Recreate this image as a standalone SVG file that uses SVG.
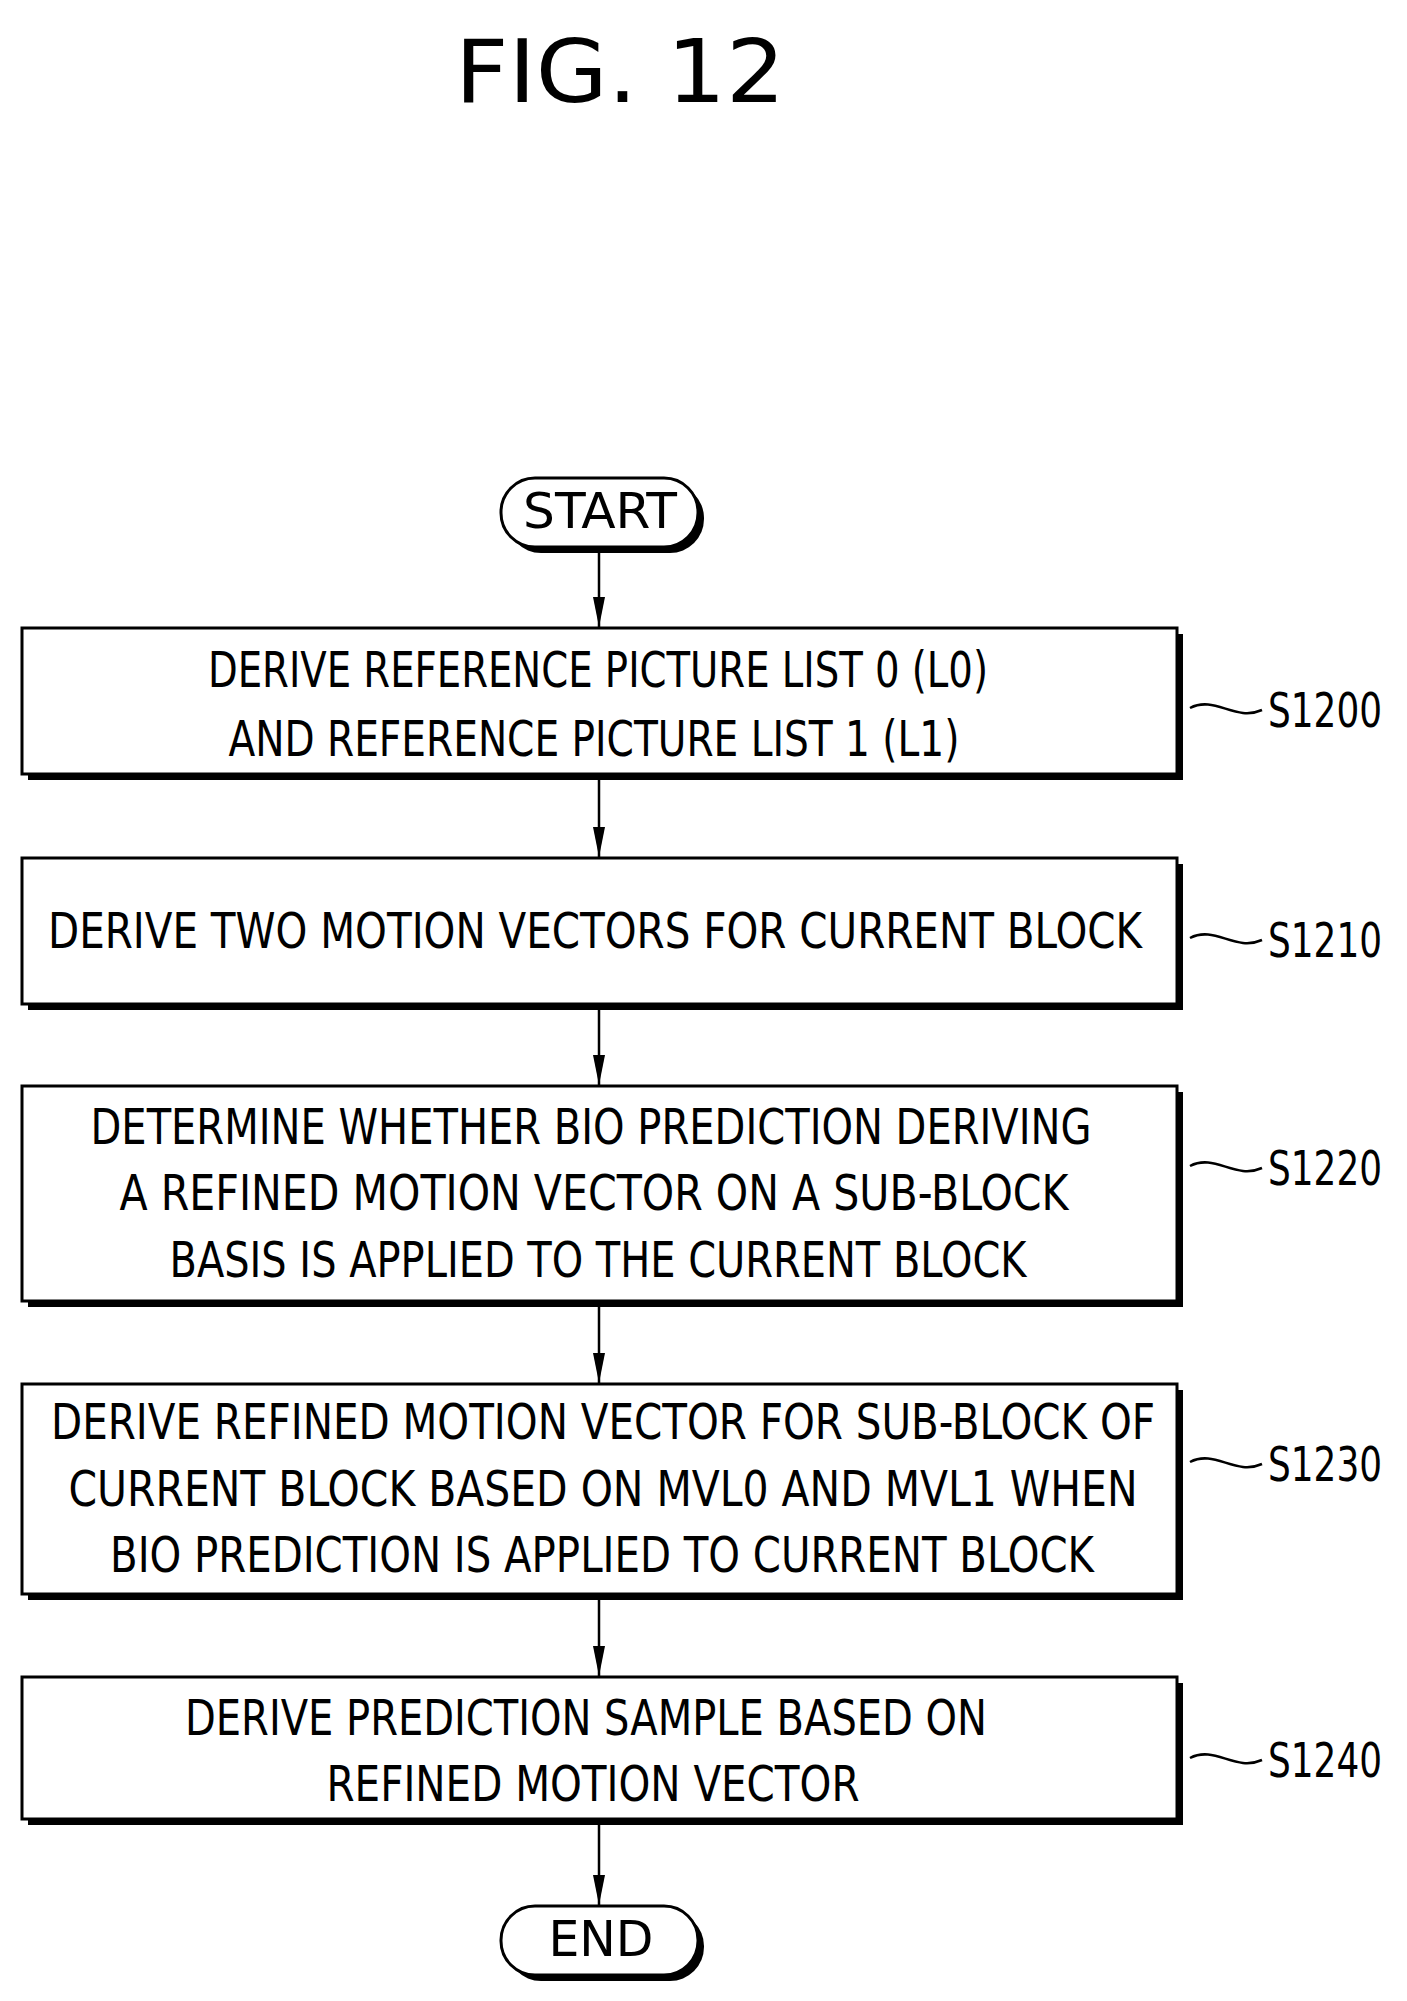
<svg xmlns="http://www.w3.org/2000/svg" width="1407" height="2001" viewBox="0 0 1407 2001">
<style>
.t{font-family:"DejaVu Sans Condensed","Liberation Sans",sans-serif;font-size:50px;fill:#000;text-anchor:middle}
.lb{font-family:"DejaVu Sans Condensed","Liberation Sans",sans-serif;font-size:48px;fill:#000}
.box{fill:#fff;stroke:#000;stroke-width:3}
.sh{fill:#000}
.ln{stroke:#000;stroke-width:2.5;fill:none}
</style>
<defs>
<marker id="a2" viewBox="0 0 30 12" refX="30" refY="6" markerWidth="30" markerHeight="12" markerUnits="userSpaceOnUse" orient="auto"><path d="M0,0 L30,6 L0,12 Z" fill="#000"/></marker>
</defs>
<text x="620" y="102" style="font-family:'DejaVu Sans','Liberation Sans',sans-serif;font-size:88px;text-anchor:middle" textLength="330" lengthAdjust="spacingAndGlyphs">FIG. 12</text>
<g id="start">
<rect x="507" y="484" width="197" height="69" rx="34" class="sh"/>
<rect x="501" y="478" width="197" height="69" rx="34" class="box"/>
<text x="600" y="528" class="t" textLength="154" lengthAdjust="spacingAndGlyphs">START</text>
</g>
<g id="s1200">
<rect x="28" y="634" width="1155" height="146" class="sh"/>
<rect x="22" y="628" width="1155" height="146" class="box"/>
<text x="598" y="687" class="t" textLength="780" lengthAdjust="spacingAndGlyphs">DERIVE REFERENCE PICTURE LIST 0 (L0)</text>
<text x="594" y="756" class="t" textLength="731" lengthAdjust="spacingAndGlyphs">AND REFERENCE PICTURE LIST 1 (L1)</text>
<path class="ln" d="M1190,708 C1215,695 1235,722 1262,710"/>
<text x="1268" y="727" class="lb" textLength="114" lengthAdjust="spacingAndGlyphs">S1200</text>
</g>
<g id="s1210">
<rect x="28" y="864" width="1155" height="146" class="sh"/>
<rect x="22" y="858" width="1155" height="146" class="box"/>
<text x="595" y="948" class="t" textLength="1094" lengthAdjust="spacingAndGlyphs">DERIVE TWO MOTION VECTORS FOR CURRENT BLOCK</text>
<path class="ln" d="M1190,938 C1215,925 1235,952 1262,940"/>
<text x="1268" y="957" class="lb" textLength="114" lengthAdjust="spacingAndGlyphs">S1210</text>
</g>
<g id="s1220">
<rect x="28" y="1092" width="1155" height="215" class="sh"/>
<rect x="22" y="1086" width="1155" height="215" class="box"/>
<text x="591" y="1144" class="t" textLength="1001" lengthAdjust="spacingAndGlyphs">DETERMINE WHETHER BIO PREDICTION DERIVING</text>
<text x="594" y="1210" class="t" textLength="949" lengthAdjust="spacingAndGlyphs">A REFINED MOTION VECTOR ON A SUB-BLOCK</text>
<text x="598" y="1277" class="t" textLength="857" lengthAdjust="spacingAndGlyphs">BASIS IS APPLIED TO THE CURRENT BLOCK</text>
<path class="ln" d="M1190,1166 C1215,1153 1235,1180 1262,1168"/>
<text x="1268" y="1185" class="lb" textLength="114" lengthAdjust="spacingAndGlyphs">S1220</text>
</g>
<g id="s1230">
<rect x="28" y="1390" width="1155" height="210" class="sh"/>
<rect x="22" y="1384" width="1155" height="210" class="box"/>
<text x="603" y="1439" class="t" textLength="1104" lengthAdjust="spacingAndGlyphs">DERIVE REFINED MOTION VECTOR FOR SUB-BLOCK OF</text>
<text x="603" y="1506" class="t" textLength="1069" lengthAdjust="spacingAndGlyphs">CURRENT BLOCK BASED ON MVL0 AND MVL1 WHEN</text>
<text x="602" y="1572" class="t" textLength="984" lengthAdjust="spacingAndGlyphs">BIO PREDICTION IS APPLIED TO CURRENT BLOCK</text>
<path class="ln" d="M1190,1462 C1215,1449 1235,1476 1262,1464"/>
<text x="1268" y="1481" class="lb" textLength="114" lengthAdjust="spacingAndGlyphs">S1230</text>
</g>
<g id="s1240">
<rect x="28" y="1683" width="1155" height="142" class="sh"/>
<rect x="22" y="1677" width="1155" height="142" class="box"/>
<text x="586" y="1735" class="t" textLength="802" lengthAdjust="spacingAndGlyphs">DERIVE PREDICTION SAMPLE BASED ON</text>
<text x="593" y="1801" class="t" textLength="533" lengthAdjust="spacingAndGlyphs">REFINED MOTION VECTOR</text>
<path class="ln" d="M1190,1758 C1215,1745 1235,1772 1262,1760"/>
<text x="1268" y="1777" class="lb" textLength="114" lengthAdjust="spacingAndGlyphs">S1240</text>
</g>
<g id="end">
<rect x="507" y="1912" width="197" height="69" rx="34" class="sh"/>
<rect x="501" y="1906" width="197" height="69" rx="34" class="box"/>
<text x="601" y="1956" class="t" textLength="105" lengthAdjust="spacingAndGlyphs">END</text>
</g>
<g id="connectors">
<line class="ln" x1="599" y1="553" x2="599" y2="627" marker-end="url(#a2)"/>
<line class="ln" x1="599" y1="780" x2="599" y2="857" marker-end="url(#a2)"/>
<line class="ln" x1="599" y1="1010" x2="599" y2="1085" marker-end="url(#a2)"/>
<line class="ln" x1="599" y1="1307" x2="599" y2="1383" marker-end="url(#a2)"/>
<line class="ln" x1="599" y1="1600" x2="599" y2="1676" marker-end="url(#a2)"/>
<line class="ln" x1="599" y1="1825" x2="599" y2="1905" marker-end="url(#a2)"/>
</g>
</svg>
